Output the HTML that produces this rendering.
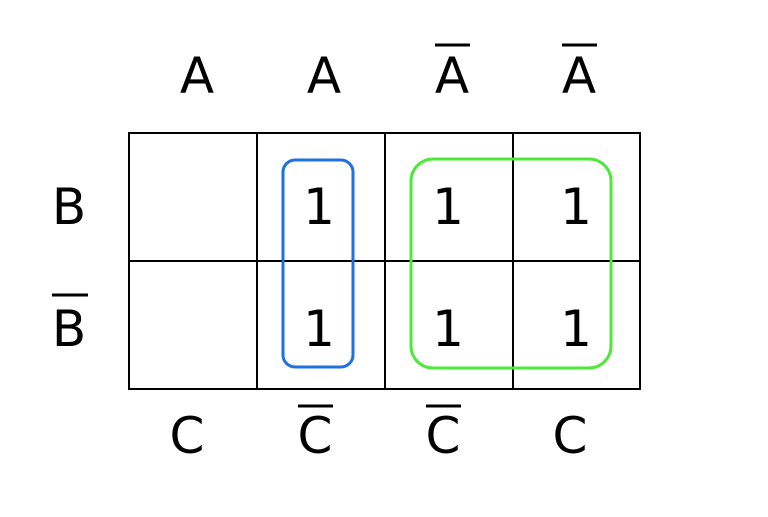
<!DOCTYPE html>
<html><head><style>html,body{margin:0;padding:0;background:#fff}</style></head>
<body>
<svg width="768" height="512" xmlns="http://www.w3.org/2000/svg" font-family="DejaVu Sans, Liberation Sans, sans-serif" font-size="50">
<rect width="768" height="512" fill="#fff"/>
<g stroke="#000" stroke-width="2" fill="none">
<rect x="129" y="133" width="511" height="256"/>
<line x1="257" y1="133" x2="257" y2="389"/>
<line x1="385" y1="133" x2="385" y2="389"/>
<line x1="513" y1="133" x2="513" y2="389"/>
<line x1="129" y1="261" x2="640" y2="261"/>
</g>
<rect x="283" y="160" width="70" height="207" rx="12" fill="none" stroke="#1f70e0" stroke-width="3"/>
<rect x="411" y="159" width="200" height="209" rx="22" fill="none" stroke="#4ee83a" stroke-width="3"/>
<g fill="#000" text-anchor="middle">
<text x="197" y="93">A</text>
<text x="324" y="93">A</text>
<text x="452" y="93">A</text>
<text x="579" y="93">A</text>
<text x="69" y="224">B</text>
<text x="69" y="346">B</text>
<text x="187" y="453">C</text>
<text x="315" y="453">C</text>
<text x="443" y="453">C</text>
<text x="570" y="453">C</text>
<text x="319" y="224">1</text>
<text x="448" y="224">1</text>
<text x="576" y="224">1</text>
<text x="319" y="346">1</text>
<text x="448" y="346">1</text>
<text x="576" y="346">1</text>
</g>
<g stroke="#000" stroke-width="3">
<line x1="435" y1="45" x2="470" y2="45"/>
<line x1="562" y1="45" x2="597" y2="45"/>
<line x1="52" y1="295" x2="88" y2="295"/>
<line x1="298" y1="406" x2="333" y2="406"/>
<line x1="426" y1="406" x2="461" y2="406"/>
</g>
</svg>
</body></html>
